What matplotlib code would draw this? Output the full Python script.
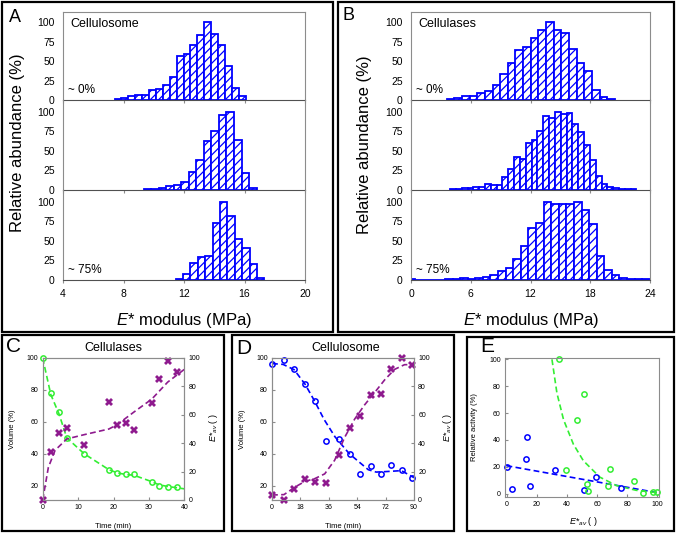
import matplotlib.pyplot as plt
from matplotlib.patches import Rectangle

plt.rcParams['font.family'] = ['Liberation Sans', 'DejaVu Sans']
plt.rcParams['mathtext.fontset'] = 'custom'
plt.rcParams['mathtext.it'] = 'Liberation Sans:italic'
plt.rcParams['mathtext.rm'] = 'Liberation Sans'
plt.rcParams['hatch.linewidth'] = 0.9

# A : cellulosome, E* histograms (bin start MPa, bin width MPa, relative abundance %)
cellulosome_0_start, cellulosome_0_width = 7.41, 0.456
cellulosome_0 = [1, 3, 5, 6, 6, 13, 14, 19, 30, 57, 59, 70, 83, 100, 85, 70, 44, 16, 5]
cellulosome_mid_start, cellulosome_mid_width = 9.33, 0.498
cellulosome_mid = [1, 1, 2, 5, 6, 10, 23, 38, 62, 75, 96, 100, 64, 22, 2]
cellulosome_75_start, cellulosome_75_width = 11.44, 0.49
cellulosome_75 = [1, 8, 22, 29, 31, 73, 100, 82, 53, 41, 21, 2]

# B : cellulases
cellulases_0_start, cellulases_0_width = 3.58, 0.768
cellulases_0 = [1, 3, 5, 5, 9, 11, 19, 34, 48, 64, 68, 79, 90, 100, 90, 86, 66, 48, 37, 13, 4, 1]
cellulases_mid_start, cellulases_mid_width = 3.92, 0.585
cellulases_mid = [1, 1, 2, 3, 4, 4, 8, 6, 7, 16, 27, 42, 40, 60, 64, 75, 94, 92, 100, 97,
                  99, 84, 74, 58, 38, 18, 8, 4, 3, 1, 1, 1]
cellulases_75_start, cellulases_75_width = -0.4, 0.762
cellulases_75 = [1, 0, 0, 0, 0, 1, 1, 3, 1, 2, 4, 7, 11, 15, 27, 44, 67, 73, 100, 97,
                 97, 97, 100, 90, 71, 31, 13, 6, 2, 1, 1, 1]

# C : cellulases, volume (%) and E*av vs time
c_time = [0, 2.3, 4.6, 6.8, 11.7, 18.7, 21.1, 23.4, 25.8, 30.8, 32.9, 35.3, 37.8]
c_volume = [100, 78, 66, 50, 40, 30, 28, 27, 27, 22.5, 20, 19.4, 19.2]
c_eav = [0, 34, 47, 51, 39, 69, 53, 54, 49, 68, 85, 98, 90]
c_volume_fit_t = [0, 2.3, 4.6, 6.8, 11.7, 18.7, 21.1, 23.4, 25.8, 30.8, 32.9, 35.3, 40]
c_volume_fit = [100, 77, 65, 50, 40, 30, 28, 27, 26.5, 22.5, 20.5, 19.5, 18]
c_eav_fit_t = [0, 1.6, 3.5, 6.8, 11.7, 18.7, 21, 25.8, 30.8, 35.3, 40]
c_eav_fit = [0, 23, 35, 43, 46, 50, 53, 62, 71, 83, 92]

# D : cellulosome
d_time = [0, 7.6, 13.9, 20.7, 27, 34.4, 42.3, 49.2, 55.6, 62.5, 69.3, 75.6, 82.4, 88.7]
d_volume = [96, 98.5, 93, 84, 73, 48, 49, 40, 27, 32, 27, 33, 29.5, 25]
d_eav = [3.5, 0, 8, 14.5, 13, 12, 32, 51, 59, 74, 75, 92, 100, 95]
d_volume_fit_t = [0, 7, 14, 21, 27, 33, 40, 49, 55, 61, 66, 72, 82, 90]
d_volume_fit = [96.5, 96, 92.7, 83.5, 73, 61.5, 50.5, 40, 35, 30, 28.5, 28.8, 29.4, 25]
d_eav_fit_t = [0, 7.6, 14.4, 20.7, 27, 33.4, 39.7, 46, 52.4, 58.7, 65, 71.4, 77.7, 84, 90]
d_eav_fit = [3.5, 3.8, 9, 13, 15, 18.4, 28, 44, 57, 67, 75.6, 84.6, 92, 95.3, 95.3]

# E : relative activity vs E*av
e_blue_x = [0, 3.9, 13.1, 13.8, 15.3, 32.3, 51.3, 59.2, 76]
e_blue_y = [19.6, 3.7, 25.7, 42.2, 5.6, 17.9, 2.5, 12.7, 4.2]
e_green_x = [34.5, 39.3, 46.9, 51.1, 53.1, 54.1, 67.5, 68.8, 84.6, 90.2, 97.2, 100]
e_green_y = [100, 17.9, 54.7, 74, 6.9, 1.7, 5.6, 18.1, 9.1, 0.5, 1.2, 1.2]
e_blue_fit_x = [0, 100]
e_blue_fit = [20.8, 0.7]
e_green_fit_x = [30.1, 33.4, 37.8, 44.3, 50.9, 61.8, 72.7, 85.8, 100]
e_green_fit = [100, 74.8, 55, 36.8, 24.5, 12.3, 6.1, 2.5, 0.7]

W, H = 677, 533
BLUE = '#0000FF'
GREEN = '#33EE33'
PURPLE = '#8E1A8E'
SPINE = '#8C8C8C'

fig = plt.figure(figsize=(W / 100, H / 100), dpi=100)


def px_axes(x0, y0, x1, y1):
    return fig.add_axes([x0 / W, 1 - y1 / H, (x1 - x0) / W, (y1 - y0) / H])


def frame(x0, y0, x1, y1):
    fig.add_artist(Rectangle((x0 / W, 1 - y1 / H), (x1 - x0) / W, (y1 - y0) / H,
                             transform=fig.transFigure, fill=False, lw=1.6, ec='black'))


def ftext(x, y, s, **kw):
    fig.text(x / W, 1 - y / H, s, **kw)


def histo_column(x0, x1, hists, xlim, xticks, title):
    tops = [(12, 100, 113), (100, 190, 115), (190, 280, 115)]
    for i, ((start, width, heights), (y0, y1, ymax)) in enumerate(zip(hists, tops)):
        ax = px_axes(x0, y0, x1, y1)
        lefts = [start + k * width for k in range(len(heights))]
        ax.bar(lefts, heights, width=width, align='edge', color='white',
               edgecolor=BLUE, hatch='////', linewidth=1.3, clip_on=True)
        ax.set_xlim(*xlim)
        ax.set_ylim(0, ymax)
        ax.set_yticks([0, 25, 50, 75, 100])
        ax.set_xticks(xticks)
        ax.tick_params(axis='y', length=0, pad=6, labelsize=7.5)
        ax.tick_params(axis='x', length=2.5, color=SPINE, pad=4, labelsize=7.5,
                       labelbottom=(i == 2))
        for s in ['left', 'right', 'top']:
            ax.spines[s].set_color(SPINE)
        ax.spines['bottom'].set_color('#505050')
        if i > 0:
            ax.spines['top'].set_visible(False)
        ax.set_facecolor('none')
        if i == 0:
            ax.text(0.03, 0.93, title, transform=ax.transAxes, fontsize=9, va='top')
            ax.text(0.02, 0.04, '~ 0%', transform=ax.transAxes, fontsize=8.5, va='bottom')
        if i == 2:
            ax.text(0.02, 0.04, '~ 75%', transform=ax.transAxes, fontsize=8.5, va='bottom')


# frames
frame(2, 2, 333, 332)
frame(338, 2, 674, 332)
frame(2, 335, 224, 531)
frame(232, 335, 454, 531)
frame(467, 337, 674, 531)

# A
histo_column(63, 305,
             [(cellulosome_0_start, cellulosome_0_width, cellulosome_0),
              (cellulosome_mid_start, cellulosome_mid_width, cellulosome_mid),
              (cellulosome_75_start, cellulosome_75_width, cellulosome_75)],
             (4, 20), [4, 8, 12, 16, 20], 'Cellulosome')
# B
histo_column(411, 650,
             [(cellulases_0_start, cellulases_0_width, cellulases_0),
              (cellulases_mid_start, cellulases_mid_width, cellulases_mid),
              (cellulases_75_start, cellulases_75_width, cellulases_75)],
             (0, 24), [0, 6, 12, 18, 24], 'Cellulases')

for xc, yc in [(17.5, 143), (365, 145)]:
    ftext(xc, yc, 'Relative abundance (%)', fontsize=12, rotation=90, ha='center', va='center')
for xc in [184, 530.5]:
    ftext(xc, 321, r'$E$* modulus (MPa)', fontsize=12, ha='center', va='center')

ftext(9, 17, 'A', fontsize=13, va='center')
ftext(342, 16, 'B', fontsize=13, va='center')
ftext(6, 346, 'C', fontsize=15, va='center')
ftext(236, 349, 'D', fontsize=15, va='center')
ftext(480, 346, 'E', fontsize=15, va='center')


def style_small(ax):
    for s in ax.spines.values():
        s.set_color(SPINE)
    ax.tick_params(length=2, color=SPINE, direction='in', labelsize=5, pad=3)


fit_style = dict(linestyle='--', dashes=(3.5, 2.0), lw=1.2)
circ_style = dict(linestyle='none', marker='o', ms=3.8, mfc='none', mew=1.1, clip_on=False)
x_style = dict(linestyle='none', marker='X', ms=5.2, mew=0, clip_on=False)
eav_label = r'$E{*}_{av}$ ( )'

# C
ax = px_axes(42.7, 358, 184.3, 500)
ax2 = ax.twinx()
ax.plot(c_volume_fit_t, c_volume_fit, color=GREEN, **fit_style)
ax.plot(c_time, c_volume, color=GREEN, mec=GREEN, **circ_style)
ax2.plot(c_eav_fit_t, c_eav_fit, color=PURPLE, **fit_style)
ax2.plot(c_time, c_eav, color=PURPLE, **x_style)
ax.set_xlim(0, 40)
ax.set_ylim(11, 100)
ax2.set_ylim(0, 100)
ax.set_xticks([0, 10, 20, 30, 40])
ax.set_yticks([20, 40, 60, 80, 100])
ax2.set_yticks([0, 20, 40, 60, 80, 100])
style_small(ax)
style_small(ax2)
ftext(113, 348, 'Cellulases', fontsize=9, ha='center', va='center')
ftext(113.5, 526, 'Time (min)', fontsize=5.5, ha='center', va='center')
ftext(13, 429, 'Volume (%)', fontsize=5.5, rotation=90, ha='center', va='center')
ftext(213, 428, eav_label, fontsize=6.5, rotation=90, ha='center', va='center')

# D
ax = px_axes(272, 358, 414, 500)
ax2 = ax.twinx()
ax.plot(d_volume_fit_t, d_volume_fit, color=BLUE, **fit_style)
ax.plot(d_time, d_volume, color=BLUE, mec=BLUE, **circ_style)
ax2.plot(d_eav_fit_t, d_eav_fit, color=PURPLE, **fit_style)
ax2.plot(d_time, d_eav, color=PURPLE, **x_style)
ax.set_xlim(0, 90)
ax.set_ylim(11, 100)
ax2.set_ylim(0, 100)
ax.set_xticks([0, 18, 36, 54, 72, 90])
ax.set_yticks([20, 40, 60, 80, 100])
ax2.set_yticks([0, 20, 40, 60, 80, 100])
style_small(ax)
style_small(ax2)
ftext(346, 348, 'Cellulosome', fontsize=9, ha='center', va='center')
ftext(343, 526, 'Time (min)', fontsize=5.5, ha='center', va='center')
ftext(242, 429, 'Volume (%)', fontsize=5.5, rotation=90, ha='center', va='center')
ftext(447, 428, eav_label, fontsize=6.5, rotation=90, ha='center', va='center')

# E
ax = px_axes(505, 358, 659, 497)
ax.plot(e_blue_fit_x, e_blue_fit, color=BLUE, **fit_style)
ax.plot(e_green_fit_x, e_green_fit, color=GREEN, **fit_style)
ax.plot(e_blue_x, e_blue_y, color=BLUE, mec=BLUE, **circ_style)
ax.plot(e_green_x, e_green_y, color=GREEN, mec=GREEN, **circ_style)
ax.set_xlim(-1, 101)
ax.set_ylim(-2.5, 101)
ax.set_xticks([0, 20, 40, 60, 80, 100])
ax.set_yticks([0, 20, 40, 60, 80, 100])
style_small(ax)
ftext(583, 522, eav_label, fontsize=6.5, ha='center', va='center')
ftext(474, 427, 'Relative activity (%)', fontsize=5.5, rotation=90, ha='center', va='center')

fig.savefig('out.png', dpi=100)
